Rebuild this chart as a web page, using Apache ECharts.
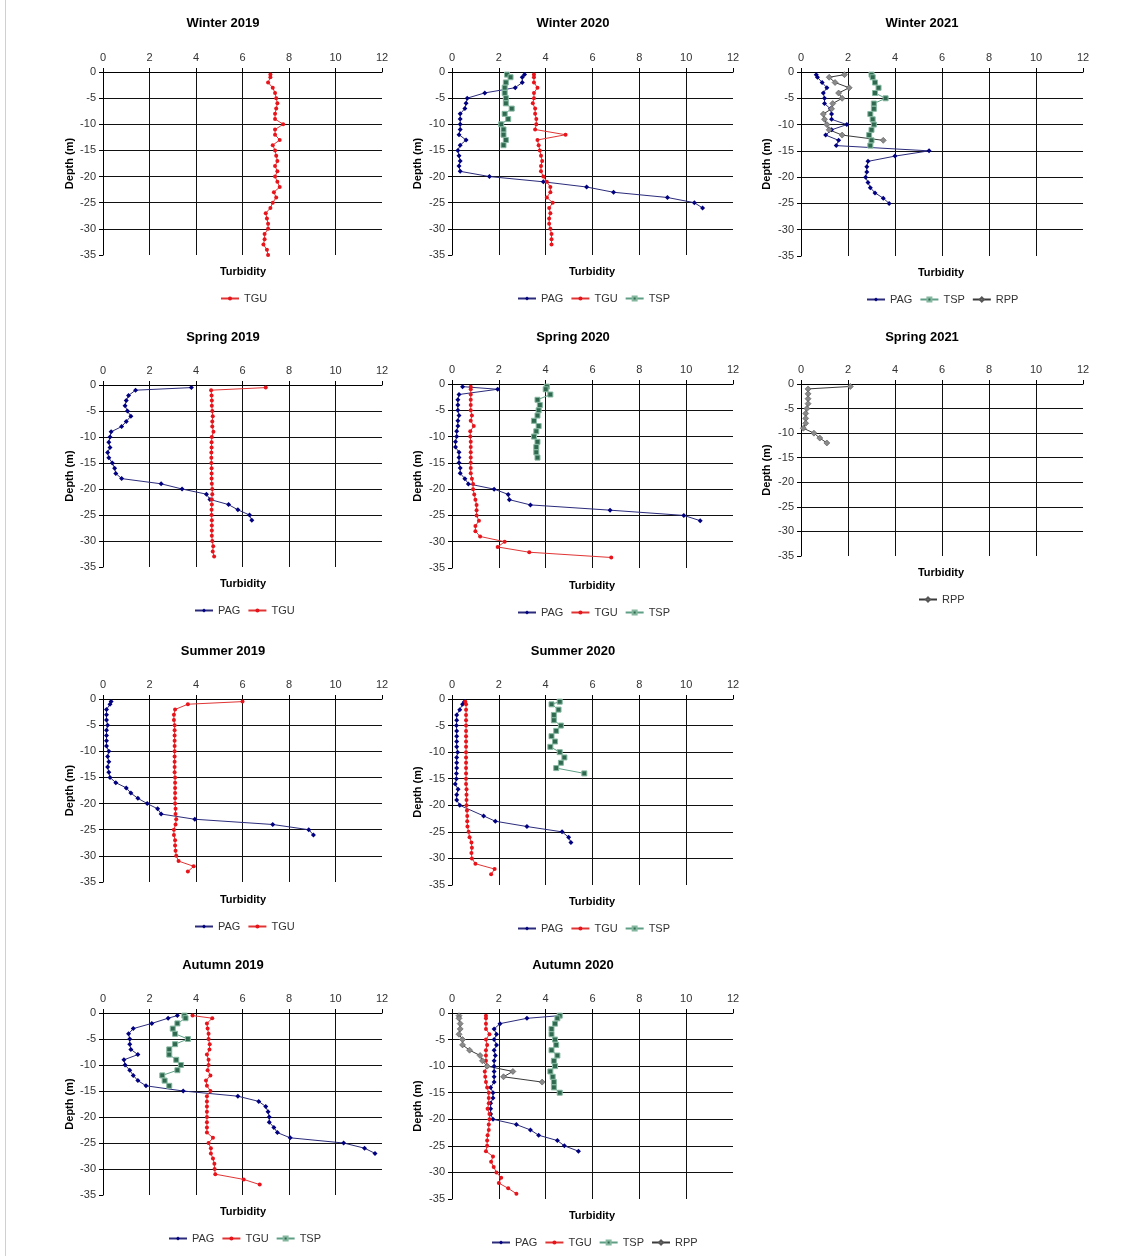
<!DOCTYPE html>
<html>
<head>
<meta charset="utf-8">
<script src="https://cdn.jsdelivr.net/npm/echarts@6/dist/echarts.min.js"></script>
<style>
html,body{margin:0;padding:0;background:#fff;}
#chart{width:1125px;height:1256px;}
</style>
</head>
<body>
<div id="chart"></div>
<script>
// Depth levels (m): first reading at -0.5, then every metre
const DEPTHS = [-0.5,-1,-2,-3,-4,-5,-6,-7,-8,-9,-10,-11,-12,-13,-14,-15,-16,-17,-18,-19,-20,-21,-22,-23,-24,-25,-26,-27,-28,-29,-30,-31,-32,-33,-34,-35];
const X_TICKS = [0,2,4,6,8,10,12];
const Y_TICKS = [-35,-30,-25,-20,-15,-10,-5,0];

// Winter 2019
const W19_TGU = [7.2,7.2,7.1,7.3,7.4,7.45,7.5,7.45,7.4,7.4,7.75,7.4,7.4,7.6,7.3,7.4,7.45,7.5,7.4,7.5,7.4,7.5,7.6,7.35,7.45,7.3,7.2,7.0,7.05,7.1,7.1,6.95,6.95,6.9,7.05,7.1];
// Winter 2020
const W20_PAG = [3.1,3.0,3.0,2.7,1.4,0.65,0.6,0.55,0.35,0.35,0.35,0.35,0.3,0.6,0.35,0.25,0.3,0.35,0.3,0.35,1.6,3.9,5.75,6.9,9.2,10.35,10.7];
const W20_TGU = [3.5,3.5,3.5,3.65,3.5,3.5,3.45,3.55,3.55,3.6,3.6,3.55,4.85,3.65,3.7,3.75,3.8,3.85,3.8,3.8,3.9,4.05,4.2,4.2,4.05,4.3,4.15,4.2,4.15,4.15,4.2,4.25,4.25,4.25];
const W20_TSP = [2.35,2.5,2.3,2.25,2.25,2.3,2.3,2.55,2.25,2.4,2.1,2.2,2.2,2.3,2.2];
// Winter 2021
const W21_PAG = [0.65,0.7,0.9,1.1,0.95,1.0,1.0,1.25,1.3,1.3,1.95,1.3,1.05,1.6,1.5,5.45,4.0,2.85,2.8,2.8,2.75,2.85,2.95,3.15,3.5,3.75];
const W21_TSP = [3.0,3.05,3.15,3.3,3.15,3.6,3.1,3.1,2.95,3.05,3.1,3.0,2.9,3.0,2.95];
const W21_RPP = [1.85,1.2,1.45,2.05,1.6,1.75,1.35,1.3,0.95,1.0,1.1,1.2,1.75,3.5];
// Spring 2019
const SP19_PAG = [3.8,1.4,1.1,1.0,0.95,1.05,1.2,1.0,0.8,0.35,0.3,0.25,0.3,0.2,0.25,0.4,0.5,0.55,0.8,2.5,3.4,4.45,4.6,5.4,5.8,6.3,6.4];
const SP19_TGU = [7.0,4.65,4.67,4.68,4.68,4.7,4.72,4.7,4.7,4.75,4.68,4.67,4.67,4.66,4.66,4.66,4.67,4.67,4.67,4.68,4.7,4.7,4.68,4.68,4.67,4.67,4.68,4.68,4.68,4.68,4.7,4.74,4.72,4.78];
// Spring 2020
const SP20_PAG = [0.45,1.95,0.3,0.25,0.25,0.25,0.3,0.25,0.25,0.2,0.2,0.15,0.15,0.3,0.3,0.3,0.35,0.35,0.55,0.7,1.8,2.4,2.45,3.35,6.75,9.9,10.6];
const SP20_TGU = [0.8,0.8,0.8,0.8,0.8,0.8,0.85,0.8,0.93,0.78,0.78,0.8,0.8,0.8,0.8,0.8,0.8,0.8,0.85,0.9,0.9,0.95,1.0,1.05,1.05,1.05,1.15,1.0,1.0,1.2,2.25,1.95,3.3,6.8];
const SP20_TSP = [4.05,4.0,4.2,3.65,3.75,3.7,3.65,3.5,3.7,3.6,3.5,3.65,3.6,3.6,3.65];
// Spring 2021
const SP21_RPP = [2.1,0.3,0.3,0.3,0.3,0.25,0.2,0.2,0.2,0.1,0.55,0.8,1.1];
// Summer 2019
const SU19_PAG = [0.35,0.3,0.15,0.15,0.15,0.2,0.15,0.15,0.15,0.15,0.25,0.2,0.25,0.2,0.25,0.3,0.55,1.0,1.2,1.5,1.9,2.35,2.5,3.95,7.3,8.85,9.05];
const SU19_TGU = [6.0,3.65,3.1,3.05,3.05,3.08,3.08,3.08,3.08,3.08,3.08,3.08,3.08,3.08,3.08,3.1,3.1,3.1,3.1,3.1,3.1,3.12,3.12,3.15,3.12,3.05,3.05,3.1,3.1,3.12,3.15,3.25,3.9,3.65];
// Summer 2020 (null = no reading)
const SU20_PAG = [0.53,0.45,0.33,0.2,0.2,0.19,0.2,0.2,0.2,0.2,0.24,0.2,0.2,0.2,0.19,0.19,0.14,0.26,0.2,0.2,0.33,null,1.35,1.85,3.2,4.7,4.98,5.08];
const SU20_TGU = [0.57,0.6,0.6,0.6,0.6,0.6,0.6,0.6,0.6,0.6,0.6,0.6,0.6,0.6,0.6,0.6,0.6,0.62,0.62,0.62,0.62,0.64,0.65,0.65,0.66,0.71,0.75,0.83,0.85,0.83,0.85,1.0,1.82,1.67];
const SU20_TSP = [4.6,4.25,4.55,4.35,4.35,4.65,4.45,4.25,4.4,4.2,4.6,4.8,4.65,4.45,5.65];
// Autumn 2019
const AU19_PAG = [3.2,2.8,2.1,1.3,1.1,1.15,1.15,1.2,1.5,0.9,0.95,1.15,1.3,1.5,1.85,3.45,5.8,6.7,7.0,7.1,7.15,7.15,7.35,7.5,8.05,10.35,11.25,11.7];
const AU19_TGU = [3.85,4.7,4.47,4.5,4.54,4.54,4.59,4.58,4.47,4.54,4.54,4.5,4.62,4.43,4.47,4.62,4.47,4.47,4.47,4.47,4.47,4.47,4.47,4.47,4.73,4.54,4.64,4.64,4.73,4.79,4.8,4.83,6.05,6.74];
const AU19_TSP = [3.5,3.55,3.2,3.0,3.1,3.65,3.1,2.85,2.85,3.15,3.35,3.2,2.55,2.65,2.85];
// Autumn 2020
const AU20_PAG = [4.6,3.2,2.05,1.8,1.9,1.8,1.9,1.8,1.85,1.8,1.8,1.8,1.8,1.8,1.65,1.75,1.75,1.65,1.65,1.65,1.75,2.75,3.35,3.7,4.5,4.8,5.4];
const AU20_TGU = [1.45,1.45,1.45,1.45,1.6,1.45,1.5,1.45,1.45,1.45,1.5,1.4,1.42,1.45,1.5,1.57,1.57,1.57,1.52,1.6,1.6,1.57,1.57,1.52,1.5,1.5,1.45,1.75,1.67,1.78,1.9,2.1,2.0,2.4,2.75];
const AU20_TSP = [4.6,4.5,4.4,4.25,4.25,4.4,4.45,4.25,4.5,4.35,4.4,4.2,4.3,4.35,4.35,4.6];
const AU20_RPP = [0.3,0.3,0.35,0.35,0.3,0.45,0.45,0.75,1.2,1.3,1.5,2.6,2.2,3.85];

const TITLES = ['Winter 2019','Winter 2020','Winter 2021','Spring 2019','Spring 2020','Spring 2021','Summer 2019','Summer 2020','Autumn 2019','Autumn 2020'];
const X_NAME = 'Turbidity';
const Y_NAME = 'Depth (m)';

// ---------- layout & styling ----------
const FONT = "'Liberation Sans', Arial, sans-serif";
const STYLE = {
  PAG: {symbol:'diamond', symbolSize:5, itemStyle:{color:'#000080'}, lineStyle:{color:'#2b2b7c', width:1}},
  TGU: {symbol:'circle', symbolSize:4, itemStyle:{color:'#e8141c'}, lineStyle:{color:'#e03434', width:1}},
  TSP: {symbol:'rect', symbolSize:5, itemStyle:{color:'#2f6a50', borderColor:'#86b8a0', borderWidth:1}, lineStyle:{color:'#5f9f86', width:1}},
  RPP: {symbol:'diamond', symbolSize:6, itemStyle:{color:'#8a8a8a', borderColor:'#555', borderWidth:0.6}, lineStyle:{color:'#3a3a3a', width:1}}
};
const COLS = [{left:103, width:279, title:223, mid:243, ylab:70},
              {left:452, width:281, title:573, mid:592, ylab:418},
              {left:801, width:282, title:922, mid:941, ylab:767}];
const PANELS = [
  {t:0, col:0, top:72, bottom:255, titleY:23, xnameY:272, legY:299, s:[['TGU',W19_TGU]]},
  {t:1, col:1, top:72, bottom:255, titleY:23, xnameY:272, legY:299, s:[['PAG',W20_PAG],['TGU',W20_TGU],['TSP',W20_TSP]]},
  {t:2, col:2, top:72, bottom:256, titleY:23, xnameY:273, legY:300, s:[['PAG',W21_PAG],['TSP',W21_TSP],['RPP',W21_RPP]]},
  {t:3, col:0, top:385, bottom:567, titleY:337, xnameY:584, legY:611, s:[['PAG',SP19_PAG],['TGU',SP19_TGU]]},
  {t:4, col:1, top:384, bottom:568, titleY:337, xnameY:586, legY:613, s:[['PAG',SP20_PAG],['TGU',SP20_TGU],['TSP',SP20_TSP]]},
  {t:5, col:2, top:384, bottom:556, titleY:337, xnameY:573, legY:600, s:[['RPP',SP21_RPP]]},
  {t:6, col:0, top:699, bottom:882, titleY:651, xnameY:900, legY:927, s:[['PAG',SU19_PAG],['TGU',SU19_TGU]]},
  {t:7, col:1, top:699, bottom:885, titleY:651, xnameY:902, legY:929, s:[['PAG',SU20_PAG],['TGU',SU20_TGU],['TSP',SU20_TSP]]},
  {t:8, col:0, top:1013, bottom:1195, titleY:965, xnameY:1212, legY:1239, s:[['PAG',AU19_PAG],['TGU',AU19_TGU],['TSP',AU19_TSP]]},
  {t:9, col:1, top:1013, bottom:1199, titleY:965, xnameY:1216, legY:1243, s:[['PAG',AU20_PAG],['TGU',AU20_TGU],['TSP',AU20_TSP],['RPP',AU20_RPP]]}
];

function pairs(vals){
  const out = [];
  vals.forEach((v,i)=>{ if(v!==null) out.push([v, DEPTHS[i]]); });
  return out;
}

const ctx = document.createElement('canvas').getContext('2d');
ctx.font = "11px " + FONT;
const LEG_ITEM_W = 18, LEG_GAP = 7;
function legendWidth(names){
  let w = 0;
  names.forEach((n,i)=>{ w += LEG_ITEM_W + 5 + ctx.measureText(n).width; if(i>0) w += LEG_GAP; });
  return w;
}

const grid=[], xAxis=[], yAxis=[], series=[], legend=[], graphic=[];
graphic.push({type:'line', shape:{x1:5.5, y1:0, x2:5.5, y2:1256}, style:{stroke:'#d0d0d0', lineWidth:1}, silent:true});
PANELS.forEach((p, gi)=>{
  const c = COLS[p.col];
  grid.push({left:c.left, top:p.top, width:c.width, height:p.bottom-p.top, outerBoundsMode:'none', containLabel:false});
  xAxis.push({
    type:'value', gridIndex:gi, position:'top', min:X_TICKS[0], max:X_TICKS[X_TICKS.length-1], interval:X_TICKS[1]-X_TICKS[0],
    axisLine:{show:true, onZero:false, lineStyle:{color:'#000', width:1}},
    axisTick:{show:true, length:4, lineStyle:{color:'#000'}},
    axisLabel:{color:'#333', fontSize:11, fontFamily:FONT, margin:9},
    splitLine:{show:true, showMaxLine:false, lineStyle:{color:'#111', width:1}}
  });
  yAxis.push({
    type:'value', gridIndex:gi, min:Y_TICKS[0], max:Y_TICKS[Y_TICKS.length-1], interval:Y_TICKS[1]-Y_TICKS[0],
    axisLine:{show:true, onZero:false, lineStyle:{color:'#000', width:1}},
    axisTick:{show:true, length:4, lineStyle:{color:'#000'}},
    axisLabel:{color:'#333', fontSize:11, fontFamily:FONT, margin:7},
    splitLine:{show:true, showMinLine:false, lineStyle:{color:'#111', width:1}}
  });
  p.s.forEach(([name, vals])=>{
    const st = STYLE[name];
    series.push({
      type:'line', name:name, xAxisIndex:gi, yAxisIndex:gi, data:pairs(vals),
      symbol:st.symbol, symbolSize:st.symbolSize, showSymbol:true,
      itemStyle:st.itemStyle, lineStyle:st.lineStyle, emphasis:{disabled:true},
      animation:false, z:3
    });
  });
  const names = p.s.map(s=>s[0]);
  const lw = legendWidth(names);
  legend.push({
    data:names, left:Math.round(c.mid - lw/2), top:p.legY-6, padding:0,
    itemWidth:LEG_ITEM_W, itemHeight:5, itemGap:LEG_GAP, selectedMode:false,
    textStyle:{color:'#333', fontSize:11, fontFamily:FONT}
  });
  graphic.push({type:'text', x:c.title, y:p.titleY, style:{text:TITLES[p.t], fill:'#000', font:"bold 13px "+FONT, textAlign:'center', textVerticalAlign:'middle'}});
  graphic.push({type:'text', x:c.mid, y:p.xnameY, style:{text:X_NAME, fill:'#000', font:"bold 11px "+FONT, textAlign:'center', textVerticalAlign:'middle'}});
  graphic.push({type:'text', x:c.ylab, y:(p.top+p.bottom)/2, rotation:Math.PI/2, style:{text:Y_NAME, fill:'#000', font:"bold 11px "+FONT, textAlign:'center', textVerticalAlign:'middle'}});
});

const chart = echarts.init(document.getElementById('chart'), null, {renderer:'canvas'});
chart.setOption({
  animation:false,
  backgroundColor:'#fff',
  grid, xAxis, yAxis, series, legend, graphic
});
</script>
</body>
</html>
